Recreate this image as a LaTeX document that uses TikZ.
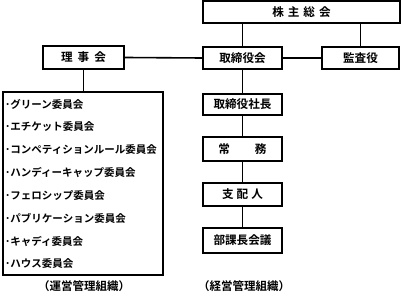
\documentclass[tikz,border=0pt]{standalone}
\usepackage{fontspec}
\setmainfont{Noto Sans CJK JP}[BoldFont={Noto Sans CJK JP Bold}]
\begin{document}
\begin{tikzpicture}[x=1pt,y=-1pt,
  box/.style={draw,line width=2pt,inner sep=0pt,font=\bfseries\fontsize{11.6}{13}\selectfont},
  conn/.style={line width=1.6pt},
  item/.style={anchor=west,inner sep=0pt,font=\bfseries\fontsize{10.5}{12}\selectfont},
  captext/.style={inner sep=0pt,font=\bfseries\fontsize{11.5}{13}\selectfont}]
\useasboundingbox (0,0) rectangle (402,296);
\node[box,minimum width=197pt,minimum height=22pt] (kabu) at (301.5,12) {株\hspace{4pt}主\hspace{4pt}総\hspace{4pt}会};
\node[box,minimum width=79pt,minimum height=22pt] (tori) at (242.5,58) {取締役会};
\node[box,minimum width=77pt,minimum height=22pt] (kansa) at (360.5,58) {監査役};
\node[box,minimum width=81pt,minimum height=23pt] (riji) at (83.5,57.5) {理\hspace{5pt}事\hspace{5pt}会};
\node[box,minimum width=160pt,minimum height=183pt] (list) at (83,183.5) {};
\node[box,minimum width=79pt,minimum height=21pt] (shacho) at (242.5,104.5) {取締役社長};
\node[box,minimum width=79pt,minimum height=24pt] (jomu) at (242.5,149) {常\hspace{25pt}務};
\node[box,minimum width=79pt,minimum height=23pt] (shihai) at (242.5,194.5) {支\hspace{3pt}配\hspace{3pt}人};
\node[box,minimum width=79pt,minimum height=25pt] (buka) at (242.5,240.5) {部課長会議};
\node[item] (l1) at (5,104) {･グリーン委員会};
\node[item] (l2) at (5,127) {･エチケット委員会};
\node[item] (l3) at (5,149.5) {･コンペティションルール委員会};
\node[item] (l4) at (5,172.5) {･ハンディーキャップ委員会};
\node[item] (l5) at (5,195.5) {･フェロシップ委員会};
\node[item] (l6) at (5,218) {･パブリケーション委員会};
\node[item] (l7) at (5,241) {･キャディ委員会};
\node[item] (l8) at (5,264) {･ハウス委員会};
\node[captext] (c1) at (84,286) {（運営管理組織）};
\node[captext] (c2) at (244,286) {（経営管理組織）};
\draw[conn] (tori.north) -- (tori.north |- kabu.south);
\draw[conn] (kansa.north) -- (kansa.north |- kabu.south);
\draw[conn] (tori.east) -- (kansa.west);
\draw[conn] (riji.east) -- (tori.west);
\draw[conn] (riji.south) -- (riji.south |- list.north);
\draw[conn] (tori.south) -- (shacho.north);
\draw[conn] (shacho.south) -- (jomu.north);
\draw[conn] (jomu.south) -- (shihai.north);
\draw[conn] (shihai.south) -- (buka.north);
\end{tikzpicture}
\end{document}
